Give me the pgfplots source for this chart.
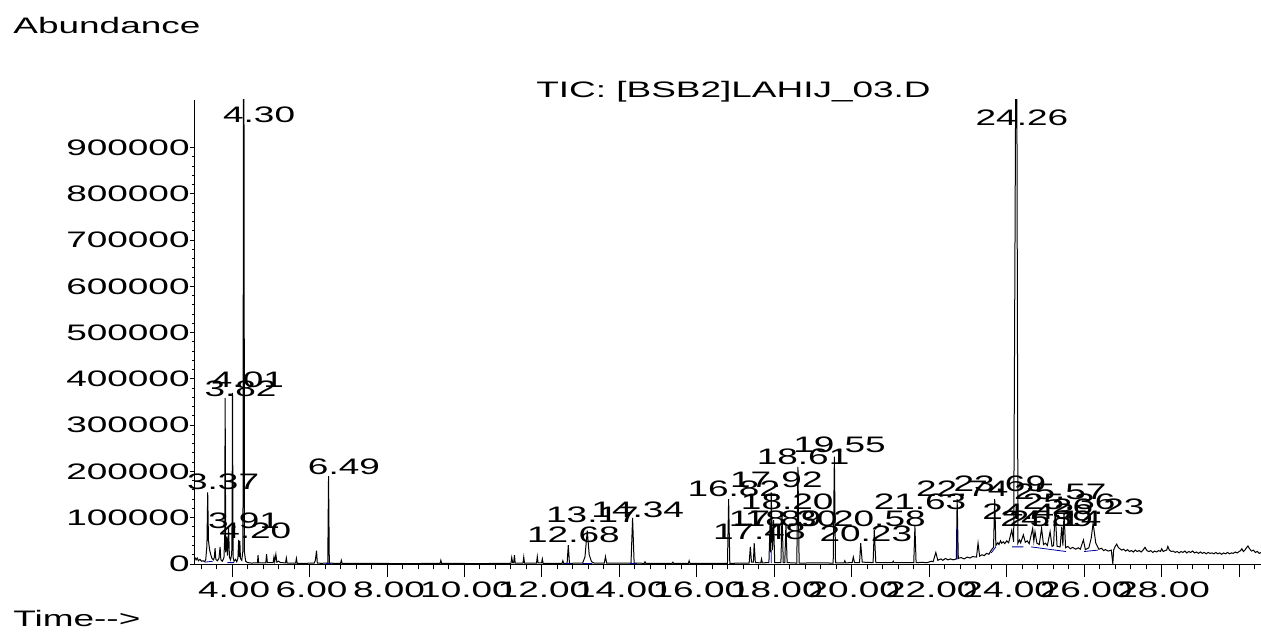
\documentclass[border=0pt]{standalone}
\usepackage{fontspec}
\setmainfont{Liberation Sans}[FakeStretch=1.65]
\usepackage{pgfplots}
\pgfplotsset{compat=1.18}
\newcommand\lbl{\fontsize{11.2pt}{13pt}\selectfont}
\newcommand\plab[4]{\node[anchor=south,inner sep=0pt,font=\lbl] at (axis cs:#1,#2) {\llap{#3}\rlap{.#4}};}
\begin{document}
\begin{tikzpicture}[font=\lbl]
\path[use as bounding box] (-97.5pt,-33.5pt) rectangle (533pt,282pt);
\begin{axis}[at={(0,0)},anchor=south west,width=533pt,height=232pt,scale only axis,
  xmin=3.042,xmax=30.566,ymin=0,ymax=1003000,
  axis x line*=bottom, axis y line=none, tick align=outside,
  xtick={4,6,...,30},
  xticklabels={4.00,6.00,8.00,10.00,12.00,14.00,16.00,18.00,20.00,22.00,24.00,26.00,28.00,{}},
  minor xtick={3.2,3.6,...,30.4},
  major tick length=6.25pt, minor tick length=2.7pt,
  every tick/.style={black,line width=0.5pt},
  x axis line style={line width=0.5pt},
  xticklabel style={font=\lbl,inner sep=0pt,anchor=north,yshift=-2.5pt,xshift=1pt},
  clip mode=individual]
\addplot[black,line width=0.5pt] coordinates {
(3.042,14000)(3.07,9000)(3.10,13000)(3.13,7000)(3.17,10000)(3.21,6000)(3.25,7000)(3.29,5000)
(3.32,10000)(3.35,40000)(3.37,155000)(3.39,50000)(3.42,30000)(3.45,20000)(3.48,12000)(3.52,9000)
(3.54,14000)(3.56,34000)(3.58,10000)(3.62,7000)(3.66,12000)(3.69,37000)(3.71,9000)(3.75,6000)
(3.79,14000)(3.81,60000)(3.82,359000)(3.835,25000)(3.86,59000)(3.88,18000)(3.91,80000)(3.93,15000)
(3.96,9000)(3.99,22000)(4.00,100000)(4.01,370000)(4.025,15000)(4.05,6000)(4.09,10000)(4.12,5000)
(4.15,12000)(4.17,52000)(4.185,15000)(4.20,50000)(4.215,12000)(4.25,8000)(4.28,30000)(4.295,1100000)
(4.305,1100000)(4.32,25000)(4.35,6000)(4.40,3000)(4.50,2000)(4.60,2500)(4.655,2500)(4.67,19000)
(4.685,2500)(4.87,2500)(4.89,21000)(4.91,3000)(5.06,3000)(5.08,15000)(5.10,5000)(5.13,21000)
(5.155,4000)(5.20,6000)(5.25,3000)(5.38,2500)(5.40,13000)(5.42,2000)(5.64,2000)(5.66,12000)
(5.68,1500)(5.90,1500)(6.12,2000)(6.15,8000)(6.18,29000)(6.20,2000)(6.30,1500)(6.47,2000)
(6.49,190000)(6.51,2000)(6.62,1500)(6.80,1500)(6.82,8000)(6.84,1500)(7.5,1200)(8.5,1000)
(9.37,1200)(9.39,8000)(9.41,1200)(10.5,1000)(11.20,1500)(11.22,14000)(11.245,2500)(11.27,2500)
(11.29,19000)(11.31,2000)(11.51,2000)(11.53,15000)(11.55,2000)(11.86,2000)(11.88,16000)(11.90,2500)
(11.99,2500)(12.01,11000)(12.03,1500)(12.52,1500)(12.54,7000)(12.56,1500)(12.65,1500)(12.68,41000)
(12.71,1500)(13.05,2000)(13.11,15000)(13.17,72000)(13.22,20000)(13.28,5000)(13.35,2000)(13.61,2000)
(13.64,16000)(13.67,2000)(14.30,2000)(14.34,99500)(14.38,2000)(14.64,1500)(14.66,5000)(14.68,1500)
(15.36,1500)(15.38,4000)(15.40,1500)(15.78,1500)(15.80,7000)(15.82,1500)(16.79,1500)(16.82,140000)
(16.85,1500)(17.35,2000)(17.38,37000)(17.41,4000)(17.46,4000)(17.48,45000)(17.51,3000)(17.65,2500)
(17.67,11000)(17.69,2500)(17.86,3000)(17.89,88000)(17.905,25000)(17.92,155000)(17.95,30000)(17.98,95000)
(18.01,3000)(18.17,3000)(18.20,113000)(18.23,3000)(18.27,3000)(18.30,88000)(18.33,3000)(18.58,2000)
(18.61,210000)(18.64,2000)(19.20,2500)(19.52,2000)(19.55,232000)(19.58,2500)(19.80,2500)(19.82,7000)
(19.84,2500)(20.01,3000)(20.04,15000)(20.07,3000)(20.20,3000)(20.23,45000)(20.27,4000)(20.55,3000)
(20.58,73000)(20.62,3000)(21.05,3000)(21.07,6000)(21.09,3000)(21.40,3000)(21.60,3000)(21.63,82000)
(21.66,3000)(21.80,3500)(21.95,3000)(22.05,6000)(22.10,5000)(22.17,25000)(22.22,8000)(22.30,11000)
(22.35,8000)(22.42,12000)(22.48,9000)(22.55,11000)(22.62,9000)(22.70,11000)
(22.72,140000)(22.75,12000)(22.82,14000)(22.90,11000)(22.98,15000)(23.05,13000)(23.12,16000)(23.22,15000)
(23.26,45000)(23.30,17000)(23.36,20000)(23.42,18000)(23.48,23000)(23.54,21000)
(23.60,30000)(23.66,36000)(23.69,140000)(23.72,40000)(23.77,46000)(23.80,42000)(23.84,50000)(23.87,45000)
(23.91,48000)(23.95,44000)(24.00,50000)(24.05,46000)
(24.13,73000)(24.18,48000)(24.235,1100000)(24.26,1100000)(24.29,45000)(24.33,52000)(24.36,46000)(24.43,63000)(24.48,47000)
(24.53,50000)(24.58,44000)(24.67,77000)(24.70,50000)(24.73,70000)(24.78,45000)(24.84,42000)(24.90,77000)(24.95,42000)
(25.00,45000)(25.05,40000)(25.12,70000)(25.17,38000)(25.21,40000)(25.25,113000)(25.30,38000)(25.38,37000)(25.42,80000)
(25.45,40000)(25.48,110000)(25.52,35000)(25.58,38000)(25.64,33000)(25.70,36000)(25.78,32000)(25.85,35000)(25.90,32000)(25.98,52000)(26.03,31000)(26.12,35000)
(26.18,55000)(26.23,88000)(26.30,45000)(26.38,32000)(26.45,34000)(26.50,29000)(26.55,31000)(26.62,28000)(26.70,30000)(26.74,0)
(26.76,30000)(26.80,38000)(26.84,43000)(26.88,36000)(26.92,33000)(26.97,30000)(27.02,32000)(27.07,28000)
(27.12,31000)(27.17,27000)(27.22,29000)(27.27,26000)(27.32,30000)(27.37,27000)(27.42,29000)(27.47,26000)
(27.52,30000)(27.57,36000)(27.62,29000)(27.67,27000)(27.72,29000)(27.77,25000)(27.82,28000)(27.87,26000)
(27.92,29000)(27.97,27000)(28.00,33000)(28.04,27000)(28.09,29000)(28.13,30000)(28.16,38000)(28.20,30000)
(28.25,27000)(28.30,28000)(28.35,25000)(28.40,27000)(28.45,24000)(28.50,27000)(28.55,25000)(28.60,28000)
(28.65,24000)(28.70,27000)(28.75,25000)(28.80,28000)(28.85,24000)(28.90,26000)(28.95,23000)(29.00,26000)
(29.05,23000)(29.10,25000)(29.15,22000)(29.20,25000)(29.25,23000)(29.30,24000)(29.35,22000)(29.40,25000)
(29.45,22000)(29.50,24000)(29.55,21000)(29.60,24000)(29.65,22000)(29.70,25000)(29.75,22000)(29.80,24000)
(29.85,23000)(29.90,26000)(29.95,24000)(30.00,27000)(30.04,29000)(30.07,33000)(30.11,27000)(30.15,30000)
(30.19,35000)(30.23,39000)(30.27,33000)(30.32,28000)(30.37,30000)(30.42,25000)(30.47,27000)(30.52,23000)
(30.566,25000)};
\addplot[blue!60!black,line width=0.4pt] coordinates {
(3.30,4000)(3.50,6000)

(3.88,3000)(4.05,3000)

(6.42,1000)(6.56,1000)

(12.62,1000)(12.75,1000)

(13.05,1000)(13.30,1000)

(14.27,1000)(14.45,1000)

(17.92,2000)(17.92,30000)

(22.72,10000)(22.72,80000)

(23.60,24000)(23.72,37000)

(24.14,37000)(24.43,37000)

(24.63,37000)(25.53,27000)

(26.00,27000)(26.35,30000)
};
\plab{3.37}{160000}{3}{37}
\plab{3.82}{361000}{3}{82}
\plab{3.91}{75700}{3}{91}
\plab{4.01}{380500}{4}{01}
\plab{4.20}{54000}{4}{20}
\plab{4.30}{952000}{4}{30}
\plab{6.49}{192000}{6}{49}
\plab{12.68}{45400}{12}{68}
\plab{13.17}{89000}{13}{17}
\plab{14.34}{99500}{14}{34}
\plab{16.82}{145000}{16}{82}
\plab{17.48}{52000}{17}{48}
\plab{17.89}{80000}{17}{89}
\plab{17.92}{164000}{17}{92}
\plab{18.30}{80000}{18}{30}
\plab{18.20}{117000}{18}{20}
\plab{18.61}{214000}{18}{61}
\plab{19.55}{240000}{19}{55}
\plab{20.23}{47500}{20}{23}
\plab{20.58}{80000}{20}{58}
\plab{21.63}{117000}{21}{63}
\plab{22.72}{145000}{22}{74}
\plab{23.69}{155600}{23}{69}
\plab{24.26}{946000}{24}{26}
\plab{24.43}{95000}{24}{43}
\plab{24.90}{80000}{24}{89}
\plab{25.25}{138000}{25}{57}
\plab{25.48}{117000}{25}{36}
\plab{25.12}{80000}{25}{14}
\plab{26.23}{106000}{26}{23}
\end{axis}
\begin{axis}[at={(0,0)},anchor=south west,width=533pt,height=232pt,scale only axis,
  xmin=3.042,xmax=30.566,ymin=0,ymax=1003000,
  axis y line*=left, axis x line=none, tick align=outside,
  ytick={0,100000,...,900000}, scaled y ticks=false,
  yticklabels={0,100000,200000,300000,400000,500000,600000,700000,800000,900000},
  minor y tick num=4,
  major tick length=2.5pt, minor tick length=1.5pt,
  every tick/.style={black,line width=0.5pt},
  y axis line style={line width=0.5pt},
  yticklabel style={font=\lbl,inner sep=0pt,anchor=east}]
\end{axis}
\node[anchor=base west,inner sep=0pt] at (-91pt,265pt) {Abundance};
\node[anchor=base west,inner sep=0pt] at (-91pt,-31pt) {Time-{}-{}>};
\node[anchor=base,inner sep=0pt] at (269.25pt,233pt) {TIC: [BSB2]LAHIJ\_03.D};
\end{tikzpicture}
\end{document}
